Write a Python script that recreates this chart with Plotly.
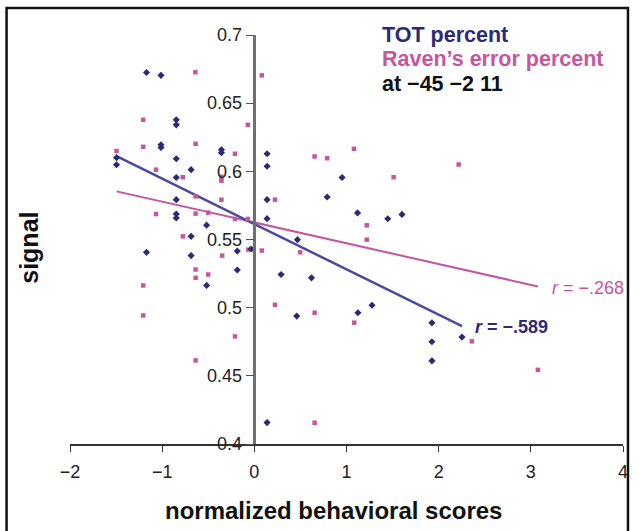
import plotly.graph_objects as go

# ---- data ----
tot_x = [-1.17, -1.013, -0.847, -0.847, -1.013, -1.013, -1.495, -1.495, -0.847, -0.686,
         -0.847, -0.357, -0.357, 0.138, 0.138, -0.847, -0.847, -0.847, -0.518, -0.686,
         0.138, 0.138, -1.17, -0.686, -0.185, -0.034, -0.185, -0.518, 0.952, 0.79,
         1.12, 1.448, 1.602, 0.468, 0.29, 0.62, 0.46, 1.124, 1.277, 1.927,
         1.927, 1.927, 2.253, 0.138]
tot_y = [0.6725, 0.6704, 0.6378, 0.6341, 0.6195, 0.6175, 0.610, 0.6048, 0.6092, 0.6012,
         0.5955, 0.6158, 0.6136, 0.6129, 0.6037, 0.5792, 0.5687, 0.5658, 0.5605, 0.5523,
         0.5792, 0.5653, 0.5406, 0.5382, 0.5415, 0.543, 0.5276, 0.5163, 0.5955, 0.5812,
         0.5695, 0.5652, 0.5684, 0.5499, 0.5243, 0.5219, 0.4938, 0.4963, 0.5018, 0.4889,
         0.475, 0.461, 0.4784, 0.4157]

rav_x = [-0.64, 0.081, -1.206, -0.07, -1.206, -0.637, -1.495, -0.21, -1.067, -0.776,
         -0.357, -0.357, -0.637, -0.357, 0.224, 0.654, 0.79, 1.081, 1.511, 2.217,
         1.22, 1.22, -1.067, -0.637, -0.5, -0.21, -0.07, -0.776, -0.065, 0.081,
         0.497, -0.349, -0.637, -0.637, -0.5, -1.206, -1.206, 0.224, 0.654, 1.084,
         -0.637, -0.21, 2.36, 3.077, 0.654]
rav_y = [0.6727, 0.6704, 0.6378, 0.6341, 0.618, 0.6202, 0.6149, 0.6129, 0.6012, 0.5957,
         0.596, 0.5931, 0.5816, 0.5792, 0.5792, 0.6109, 0.6096, 0.6165, 0.5957, 0.605,
         0.5604, 0.5499, 0.5687, 0.569, 0.5697, 0.5651, 0.5651, 0.5523, 0.5426, 0.5419,
         0.5406, 0.5382, 0.528, 0.5219, 0.5243, 0.5163, 0.4943, 0.5021, 0.4963, 0.489,
         0.4613, 0.4789, 0.4753, 0.4544, 0.4156]

# regression lines (slope, intercept) and correlation values
tot_fit = (-0.0333, 0.5614)
rav_fit = (-0.01525, 0.5625)
tot_r = "−.589"
rav_r = "−.268"

x_ticks = [-2, -1, 0, 1, 2, 3, 4]
y_ticks = [0.4, 0.45, 0.5, 0.55, 0.6, 0.65, 0.7]

TOT_C = "#2c2a78"
TOT_LINE = "#4a4a9c"
RAV_C = "#c8569f"
RAV_LINE = "#c4559f"
FONT = "Liberation Sans, Arial, sans-serif"


def fit_line(xs, fit):
    x0, x1 = min(xs), max(xs)
    return [x0, x1], [fit[1] + fit[0] * x0, fit[1] + fit[0] * x1]


fig = go.Figure()

lx, ly = fit_line(rav_x, rav_fit)
fig.add_trace(go.Scatter(x=lx, y=ly, mode="lines",
                         line=dict(color=RAV_LINE, width=2), showlegend=False))
lx, ly = fit_line(tot_x, tot_fit)
fig.add_trace(go.Scatter(x=lx, y=ly, mode="lines",
                         line=dict(color=TOT_LINE, width=2.5), showlegend=False))

fig.add_trace(go.Scatter(x=rav_x, y=rav_y, mode="markers",
                         marker=dict(symbol="square", size=4.5, color=RAV_C),
                         showlegend=False))
fig.add_trace(go.Scatter(x=tot_x, y=tot_y, mode="markers",
                         marker=dict(symbol="diamond", size=5.5, color=TOT_C),
                         showlegend=False))

# r labels at the end of the fit lines
tx, ty = fit_line(tot_x, tot_fit)
fig.add_annotation(x=tx[1], y=ty[1], xref="x", yref="y", xanchor="left", yanchor="middle",
                   xshift=11, yshift=-1, showarrow=False,
                   text="<b><i>r</i> = " + tot_r + "</b>",
                   font=dict(family=FONT, size=18, color=TOT_C))
rx, ry = fit_line(rav_x, rav_fit)
fig.add_annotation(x=rx[1], y=ry[1], xref="x", yref="y", xanchor="left", yanchor="middle",
                   xshift=12, yshift=-2, showarrow=False,
                   text="<i>r</i> = " + rav_r,
                   font=dict(family=FONT, size=18, color=RAV_C))

# legend-like texts
legend_items = [("TOT percent", TOT_C, 1.0), ("Raven’s error percent", RAV_C, 0.941),
                ("at −45 −2 11", "#111111", 0.880)]
for txt, col, yy in legend_items:
    fig.add_annotation(x=0.561, y=yy, xref="paper", yref="paper", xanchor="left",
                       yanchor="middle", showarrow=False, text="<b>" + txt + "</b>",
                       font=dict(family=FONT, size=21.5, color=col))

# axis titles
fig.add_annotation(x=-0.074, y=0.48, xref="paper", yref="paper", textangle=-90,
                   xanchor="center", yanchor="middle",
                   showarrow=False, text="<b>signal</b>",
                   font=dict(family=FONT, size=25, color="#111111"))
fig.add_annotation(x=0.477, y=-0.163, xref="paper", yref="paper", yanchor="middle",
                   xanchor="center",
                   showarrow=False, text="<b>normalized behavioral scores</b>",
                   font=dict(family=FONT, size=24, color="#111111"))

# outer frame
fig.add_shape(type="rect", xref="paper", yref="paper", x0=-0.1147, x1=1.009,
              y0=-0.3, y1=1.066, line=dict(color="#111111", width=2.5))

fig.update_layout(
    width=639, height=531,
    margin=dict(l=70, r=11, t=35, b=87),
    paper_bgcolor="white", plot_bgcolor="white",
    font=dict(family=FONT, color="#222222"),
    xaxis=dict(range=[-2, 4], tickvals=x_ticks, showgrid=False, zeroline=False,
               showline=True, linecolor="#333333", linewidth=1.5,
               ticks="outside", ticklen=6, tickcolor="#333333",
               ticklabelstandoff=5,
               tickfont=dict(size=18, color="#222222"), fixedrange=True),
    yaxis=dict(range=[0.4, 0.7], tickvals=y_ticks,
               ticktext=[str(v) for v in y_ticks],
               showgrid=False, zeroline=False,
               showline=True, linecolor="#707070", linewidth=2.5,
               ticks="outside", ticklen=8, tickcolor="#555555",
               anchor="free", position=1/3,
               tickfont=dict(size=18, color="#222222"), fixedrange=True),
)

fig.write_html("out.html", config={"displayModeBar": False},
               post_script="document.body.style.margin='0';"
                           "document.body.style.overflow='hidden';")
